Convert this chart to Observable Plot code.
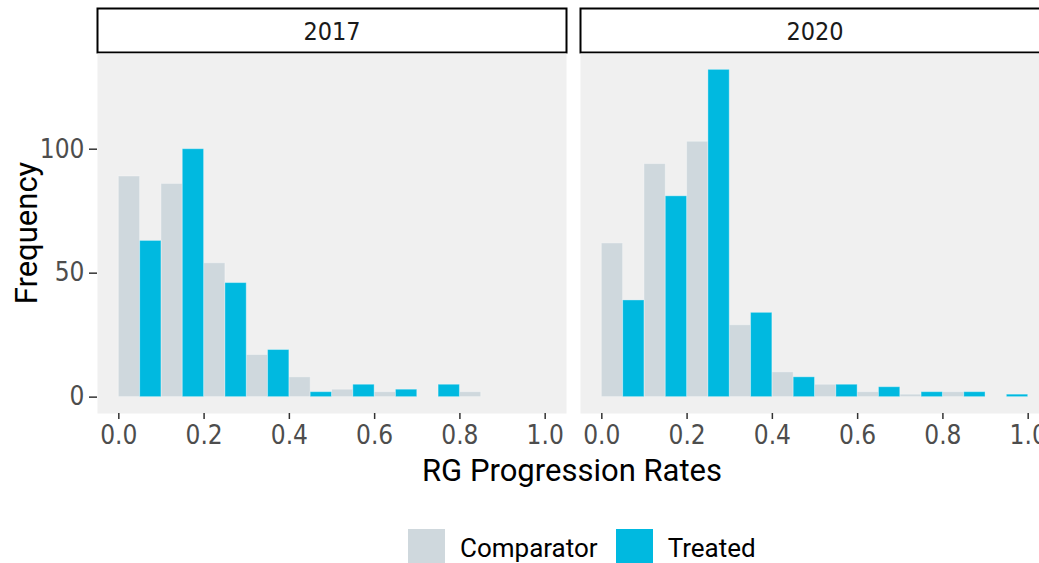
<!DOCTYPE html>
<html>
<head>
<meta charset="utf-8">
<script src="https://cdn.jsdelivr.net/npm/d3@7"></script>
<script src="https://cdn.jsdelivr.net/npm/@observablehq/plot@0.6"></script>
<style>
  html, body { margin: 0; padding: 0; background: #fff; }
  body { width: 1039px; height: 563px; overflow: hidden; position: relative; }
  #wrap { position: absolute; left: 0; top: 0; width: 1049px; height: 563px; }
  #strip { position: absolute; left: 0; top: 7px; }
  #main { position: absolute; left: 0; top: 53px; }
  #ytitle { position: absolute; left: 26px; top: 233px; transform: translate(-50%, -50%) rotate(-90deg);
            font-family: Roboto, sans-serif; font-size: 31px; color: #000; white-space: nowrap; line-height: 1; }
  #xtitle { position: absolute; left: 572px; top: 470px; transform: translate(-50%, -50%);
            font-family: Roboto, sans-serif; font-size: 31px; color: #000; white-space: nowrap; line-height: 1; }
  #legend { position: absolute; left: 408px; top: 529px; }
  .lg-swatches { font-family: Roboto, sans-serif !important; font-size: 26px !important; color: #000 !important; display: flex !important; align-items: center; }
  .lg-swatch { margin-right: 18px !important; display: inline-flex !important; align-items: center; }
  .lg-swatch > svg { margin-right: 15px !important; }
</style>
</head>
<body>
<div id="wrap">
  <div id="strip"></div>
  <div id="main"></div>
  <div id="ytitle">Frequency</div>
  <div id="xtitle">RG Progression Rates</div>
  <div id="legend"></div>
</div>
<script>
// ---- data ----
const years = ["2017", "2020"];
const groups = ["Comparator", "Treated"];
const groupColors = ["#CFD8DD", "#00B9E0"];
const binStarts = [0.0, 0.1, 0.2, 0.3, 0.4, 0.5, 0.6, 0.7, 0.8, 0.9];
const binWidth = 0.1;
const comparator2017 = [89, 86, 54, 17, 8, 3, 2, 0, 2, 0];
const treated2017    = [63, 100, 46, 19, 2, 5, 3, 5, 0, 0];
const comparator2020 = [62, 94, 103, 29, 10, 5, 2, 1, 2, 0];
const treated2020    = [39, 81, 132, 34, 8, 5, 4, 2, 2, 1];
const xTicks = [0.0, 0.2, 0.4, 0.6, 0.8, 1.0];
const yTicks = [0, 50, 100];

// ---- table ----
const series = [
  {year: "2017", group: "Comparator", values: comparator2017},
  {year: "2017", group: "Treated", values: treated2017},
  {year: "2020", group: "Comparator", values: comparator2020},
  {year: "2020", group: "Treated", values: treated2020}
];
const rows = [];
for (const s of series) {
  s.values.forEach((count, i) => {
    if (count <= 0) return;
    const x1 = binStarts[i] + (s.group === "Treated" ? binWidth / 2 : 0);
    rows.push({year: s.year, group: s.group, x1, x2: x1 + binWidth / 2, count});
  });
}

const W = 1049;
const fxOpts = {domain: years, paddingInner: 0.029, paddingOuter: 0, axis: null};
const narrowFont = "'Liberation Sans Narrow', 'DejaVu Sans Condensed', sans-serif";

// ---- strip headers ----
const strip = Plot.plot({
  width: W, height: 46,
  marginLeft: 97, marginRight: 0, marginTop: 1, marginBottom: 1,
  fx: fxOpts,
  style: {background: "transparent", overflow: "visible"},
  marks: [
    Plot.frame({fill: "#fff", stroke: "#000", strokeWidth: 2}),
    Plot.text(years, {fx: d => d, text: d => d, frameAnchor: "middle", dy: 1,
      fontSize: 25, fill: "#1A1A1A", fontFamily: narrowFont})
  ]
});
document.getElementById("strip").appendChild(strip);

// ---- main panels ----
const main = Plot.plot({
  width: W, height: 400,
  marginLeft: 97, marginRight: 0, marginTop: 0, marginBottom: 40,
  fx: fxOpts,
  x: {domain: [-0.05, 1.05]},
  y: {domain: [-6.6, 138.6]},
  color: {domain: groups, range: groupColors},
  style: {background: "transparent", overflow: "visible"},
  marks: [
    Plot.frame({fill: "#F0F0F0", stroke: null}),
    Plot.rect(rows, {fx: "year", x1: "x1", x2: "x2", y1: 0, y2: "count", fill: "group",
      stroke: "#fff", strokeOpacity: 0.35, strokeWidth: 1}),
    Plot.axisX({ticks: xTicks, tickFormat: d3.format(".1f"), tickSize: 6, tickPadding: 6,
      label: null, fontSize: 26, fontFamily: narrowFont, fill: "#4D4D4D", stroke: "#333", strokeWidth: 1.5}),
    Plot.axisY({ticks: yTicks, tickSize: 8, tickPadding: 5,
      label: null, fontSize: 26, fontFamily: narrowFont, fill: "#4D4D4D", stroke: "#333", strokeWidth: 1.5})
  ]
});
document.getElementById("main").appendChild(main);

// ---- legend ----
const legend = Plot.legend({
  color: {domain: groups, range: groupColors},
  swatchSize: 37,
  className: "lg"
});
document.getElementById("legend").appendChild(legend);
</script>
</body>
</html>
